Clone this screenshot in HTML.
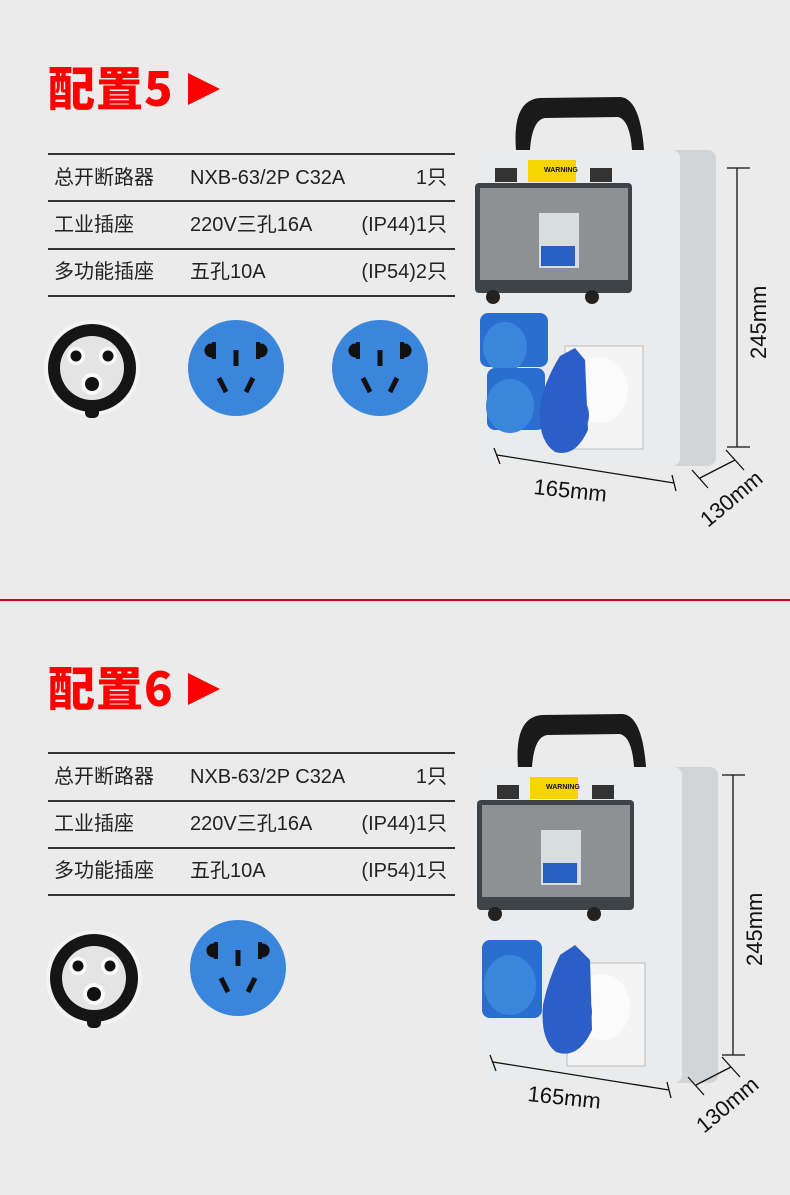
<!DOCTYPE html>
<html><head><meta charset="utf-8"><style>
html,body{margin:0;padding:0}
body{width:790px;height:1195px;background:#ebebeb;position:relative;overflow:hidden;font-family:"Liberation Sans","Noto Sans CJK SC",sans-serif;color:#222}
.t{position:absolute;left:48px;font-size:47px;font-weight:900;color:#f00;letter-spacing:1px;font-family:"Noto Sans CJK SC","Liberation Sans",sans-serif;line-height:1}
.tri{position:absolute;width:0;height:0;border-top:16px solid transparent;border-bottom:16px solid transparent;border-left:32px solid #f00}
.ln{position:absolute;left:48px;width:407px;height:2px;background:#333}
.row{position:absolute;left:54px;width:393px;font-size:20px;height:24px;line-height:24px;font-family:"Liberation Sans","Noto Sans CJK SC",sans-serif}
.row span{position:absolute}
.red{position:absolute;left:0;top:599px;width:790px;height:2px;background:#d9001b}
svg{position:absolute;left:0}
</style></head><body>
<div class="t" style="top:62px">配置5</div><div class="tri" style="left:188px;top:73px"></div>
<div class="ln" style="top:153px"></div><div class="ln" style="top:200px"></div><div class="ln" style="top:248px"></div><div class="ln" style="top:295px"></div>
<div class="row" style="top:166px"><span style="left:0">总开断路器</span><span style="left:136px">NXB-63/2P C32A</span><span style="right:0">1只</span></div>
<div class="row" style="top:213px"><span style="left:0">工业插座</span><span style="left:136px">220V三孔16A</span><span style="right:0">(IP44)1只</span></div>
<div class="row" style="top:260px"><span style="left:0">多功能插座</span><span style="left:136px">五孔10A</span><span style="right:0">(IP54)2只</span></div>
<div class="red"></div>
<div class="t" style="top:662px">配置6</div><div class="tri" style="left:188px;top:673px"></div>
<div class="ln" style="top:752px"></div><div class="ln" style="top:800px"></div><div class="ln" style="top:847px"></div><div class="ln" style="top:894px"></div>
<div class="row" style="top:765px"><span style="left:0">总开断路器</span><span style="left:136px">NXB-63/2P C32A</span><span style="right:0">1只</span></div>
<div class="row" style="top:812px"><span style="left:0">工业插座</span><span style="left:136px">220V三孔16A</span><span style="right:0">(IP44)1只</span></div>
<div class="row" style="top:859px"><span style="left:0">多功能插座</span><span style="left:136px">五孔10A</span><span style="right:0">(IP54)1只</span></div>

<svg width="790" height="1195" viewBox="0 0 790 1195" style="top:0">
<defs>
<g id="ind">
<circle r="48" fill="#f4f4f4"/><circle r="44" fill="#151515"/><rect x="-7" y="30" width="14" height="20" rx="5" fill="#151515"/><circle r="32" fill="#e4e4e4"/>
<circle cx="-16" cy="-12" r="9" fill="#fafafa"/><circle cx="-16" cy="-12" r="5.5" fill="#111"/>
<circle cx="16" cy="-12" r="9" fill="#fafafa"/><circle cx="16" cy="-12" r="5.5" fill="#111"/>
<circle cx="0" cy="16" r="11" fill="#fafafa"/><circle cx="0" cy="16" r="7" fill="#111"/>
</g>
<g id="blu">
<circle r="48" fill="#3a86dc"/>
<path d="M-22,-24 a7,7 0 1 0 0,13 z" fill="#111"/><rect x="-24" y="-26" width="4" height="17" fill="#111"/>
<path d="M22,-24 a7,7 0 1 1 0,13 z" fill="#111"/><rect x="20" y="-26" width="4" height="17" fill="#111"/>
<rect x="-2.5" y="-18" width="5" height="16" fill="#111"/>
<path d="M-17,10 l7,14" stroke="#111" stroke-width="5"/><path d="M17,10 l-7,14" stroke="#111" stroke-width="5"/>
</g>
<g id="box">
<path d="M516,150 Q512,100 540,98 L620,97 Q640,98 644,150 L632,150 Q630,120 618,117 L545,118 Q532,120 530,150 Z" fill="#1a1a1a"/>
<rect x="480" y="150" width="236" height="316" rx="8" fill="#d2d4d6"/>
<rect x="480" y="150" width="200" height="316" rx="8" fill="#eaebec"/>
<rect x="528" y="160" width="48" height="22" fill="#f5d400"/>
<text x="544" y="172" font-size="7" font-weight="bold" font-family="Liberation Sans" fill="#111">WARNING</text>
<rect x="495" y="168" width="22" height="14" fill="#333"/><rect x="590" y="168" width="22" height="14" fill="#333"/>
<rect x="475" y="183" width="157" height="110" rx="4" fill="#3e4347"/>
<rect x="480" y="188" width="148" height="92" fill="#8d9194"/>
<rect x="539" y="213" width="40" height="55" fill="#d8dde0"/><rect x="541" y="246" width="34" height="20" fill="#2a5fc2"/>
<circle cx="493" cy="297" r="7" fill="#222"/><circle cx="592" cy="297" r="7" fill="#222"/>
<rect x="565" y="346" width="78" height="103" fill="#f4f4f4" stroke="#bbb"/>
<ellipse cx="600" cy="390" rx="28" ry="33" fill="#fbfbfb"/>
</g>
</defs>
<use href="#ind" x="92" y="368"/><use href="#blu" x="236" y="368"/><use href="#blu" x="380" y="368"/>
<use href="#ind" x="94" y="978"/><use href="#blu" x="238" y="968"/>
<use href="#box"/>
<rect x="480" y="313" width="68" height="54" rx="8" fill="#2a6fd0"/><ellipse cx="505" cy="347" rx="22" ry="25" fill="#3a86dc"/>
<rect x="487" y="368" width="58" height="62" rx="8" fill="#2a6fd0"/><ellipse cx="510" cy="406" rx="24" ry="27" fill="#3a86dc"/>
<path d="M560,356 L575,348 L585,360 L588,430 Q575,458 555,452 Q537,440 540,405 Q545,380 560,356Z" fill="#2c5ec8"/>
<circle cx="565" cy="415" r="24" fill="#2c5ec8"/>
<g stroke="#111" stroke-width="1.3" fill="none">
<path d="M737,168 V447 M727,168 H750 M727,447 H750"/>
<path d="M497,455 L674,483 M494,448 L500,464 M672,475 L676,491"/>
<path d="M700,478 L735,460 M692,470 L708,488 M726,450 L744,470"/>
</g>
<text font-size="22" fill="#111" font-family="Liberation Sans" transform="translate(766,359) rotate(-90)">245mm</text>
<text font-size="22" fill="#111" font-family="Liberation Sans" transform="translate(533,494) rotate(6)">165mm</text>
<text font-size="22" fill="#111" font-family="Liberation Sans" transform="translate(708,528) rotate(-40)">130mm</text>
<g transform="translate(2,617)"><use href="#box"/></g>
<rect x="482" y="940" width="60" height="78" rx="8" fill="#2a6fd0"/><ellipse cx="510" cy="985" rx="26" ry="30" fill="#3a86dc"/>
<path d="M560,955 L575,945 L590,960 L592,1030 Q578,1060 556,1052 Q540,1040 543,1005 Q548,980 560,955Z" fill="#2c5ec8"/>
<circle cx="568" cy="1012" r="24" fill="#2c5ec8"/>
<g stroke="#111" stroke-width="1.3" fill="none">
<path d="M733,775 V1055 M722,775 H745 M722,1055 H745"/>
<path d="M493,1062 L669,1090 M490,1055 L496,1071 M667,1082 L671,1098"/>
<path d="M696,1085 L731,1067 M688,1077 L704,1095 M722,1057 L740,1077"/>
</g>
<text font-size="22" fill="#111" font-family="Liberation Sans" transform="translate(762,966) rotate(-90)">245mm</text>
<text font-size="22" fill="#111" font-family="Liberation Sans" transform="translate(527,1101) rotate(6)">165mm</text>
<text font-size="22" fill="#111" font-family="Liberation Sans" transform="translate(704,1134) rotate(-40)">130mm</text>
</svg>
</body></html>
